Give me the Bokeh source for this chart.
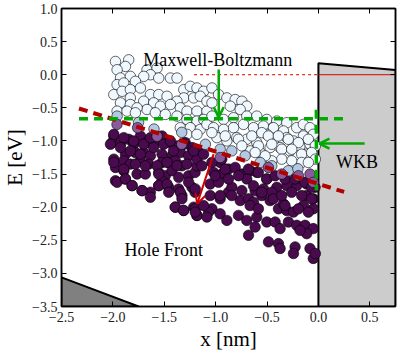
from bokeh.plotting import figure
from bokeh.models import (Range1d, LinearAxis, FixedTicker, CustomJSTickFormatter,
                          Arrow, OpenHead, Label)
from bokeh.embed import file_html
from bokeh.resources import INLINE

# ---------------- data ----------------
x_ticks = [-2.5, -2.0, -1.5, -1.0, -0.5, 0.0, 0.5]
y_ticks = [-3.5, -3.0, -2.5, -2.0, -1.5, -1.0, -0.5, 0.0, 0.5, 1.0]

# Maxwell-Boltzmann (thermalised) carriers
mb_x = [-1.975, -1.846, -1.878, -1.959, -1.668, -1.570, -1.635, -1.700, -1.926, -1.830,
        -1.554, -1.440, -1.376, -1.959, -1.894, -1.781, -1.991, -1.910, -1.830, -1.732,
        -1.830, -1.635, -1.554, -1.473, -1.310, -1.247, -1.182, -1.117, -1.310, -1.376,
        -1.214, -1.150, -1.085, -1.926, -1.830, -1.700, -1.603, -1.668, -1.765, -1.538,
        -1.440, -1.344, -1.959, -1.862, -1.781, -1.587, -1.490, -1.279, -1.182, -1.085,
        -1.376, -1.279, -1.182, -1.117, -1.344, -1.247, -1.150, -1.085, -1.279, -1.182,
        -1.036, -0.972, -1.036, -0.891, -0.810, -0.745, -0.697, -0.858, -0.761, -1.036,
        -0.923, -0.826, -0.697, -0.600, -0.502, -0.405, -0.308, -1.020, -0.923, -0.826,
        -0.729, -0.632, -0.535, -0.438, -0.340, -0.211, -0.146, -0.082, -0.988, -0.891,
        -0.794, -0.697, -0.600, -0.502, -0.438, -0.308, -0.243, -0.146, -0.050, -0.664,
        -0.567, -0.470, -0.373, -0.276, -0.179, -0.082, -0.114,
        -1.037, -0.907, -0.778, -0.648, -0.551, -0.487, -0.390, -0.293, -0.195, -0.098,
        -0.030, -0.745, -0.584, -0.454, -0.357, -0.260, -0.163, -0.066, -0.030, -0.163,
        -0.260, -0.098, -0.357, -0.454, -0.519, -0.616]
mb_y = [0.200, 0.225, 0.125, 0.075, 0.075, 0.100, 0.000, -0.025, -0.050, -0.025,
        -0.050, -0.050, -0.050, -0.150, -0.125, -0.100, -0.300, -0.250, -0.225, -0.200,
        -0.350, -0.300, -0.300, -0.325, -0.225, -0.175, -0.200, -0.250, -0.350, -0.400,
        -0.350, -0.325, -0.400, -0.425, -0.450, -0.400, -0.425, -0.525, -0.500, -0.475,
        -0.450, -0.500, -0.550, -0.550, -0.575, -0.575, -0.600, -0.550, -0.550, -0.550,
        -0.625, -0.675, -0.700, -0.675, -0.800, -0.800, -0.825, -0.750, -0.900, -0.900,
        -0.200, -0.300, -0.425, -0.350, -0.375, -0.400, -0.475, -0.475, -0.525, -0.625,
        -0.675, -0.650, -0.625, -0.625, -0.675, -0.700, -0.725, -0.800, -0.825, -0.800,
        -0.750, -0.800, -0.775, -0.800, -0.850, -0.800, -0.750, -0.800, -0.950, -1.000,
        -0.950, -0.975, -1.025, -0.900, -1.000, -0.950, -1.000, -0.925, -0.900, -1.150,
        -1.175, -1.100, -1.100, -1.150, -1.075, -1.050, -1.200,
        -0.875, -0.925, -0.975, -0.925, -0.875, -0.925, -0.925, -0.975, -1.025, -0.975,
        -1.075, -1.075, -1.075, -1.050, -1.125, -1.125, -1.200, -1.175, -1.275, -1.325,
        -1.300, -1.325, -1.275, -1.300, -1.225, -1.175]

# WKB boundary carriers (light blue)
wkb_x = [-1.959, -1.750, -1.600, -1.330, -1.100, -0.956, -0.843, -0.713, -0.567, -0.454,
         -0.293, -0.200]
wkb_y = [-0.625, -0.720, -0.820, -0.870, -1.050, -1.125, -1.150, -1.225, -1.325, -1.375,
         -1.450, -1.420]

# transition carriers (violet)
tr_x = [-1.960, -1.760, -1.570, -1.330, -0.956, -0.487, -0.357, -0.195, -0.082, -0.050]
tr_y = [-0.750, -0.800, -0.930, -1.050, -1.250, -1.400, -1.500, -1.525, -1.500, -1.625]

# hole front carriers (dark purple)
hf_x = [-1.991, -2.008, -1.927, -1.846, -1.797, -1.732, -1.668, -1.587, -1.522, -1.457,
        -1.376, -1.296, -1.231, -1.166, -1.781, -1.700, -1.635, -1.878, -1.991, -1.894,
        -1.830, -1.732, -1.652, -1.522, -1.425, -1.344, -1.263, -1.522, -1.457, -1.393,
        -1.328, -1.975, -1.894, -1.765, -1.684, -1.554, -1.490, -1.425, -1.360, -1.263,
        -1.200, -1.975, -1.878, -1.813, -1.716, -1.635, -1.554, -1.457, -1.522, -1.360,
        -1.328, -1.231, -1.200, -1.393, -1.312, -1.214, -1.182,
        -0.956, -1.020, -0.939, -0.875, -1.053, -0.972, -1.053, -0.956, -0.875, -0.842,
        -0.761, -0.680, -0.745, -0.664, -0.600, -0.697, -0.502, -0.405, -0.308, -0.211,
        -0.114, -0.033, -0.616, -0.535, -0.454, -0.632, -0.551, -0.470, -0.389, -0.308,
        -0.340, -0.243, -0.114, -0.050, -0.146, -0.050, -1.036, -0.956, -0.891, -0.778,
        -0.697, -0.600, -0.616, -0.502, -0.421, -0.373, -0.292, -0.211, -0.130, -0.050,
        -0.114, -0.179, -0.680, -0.486, -0.389, -0.373, -0.227, -0.243, -0.082, -0.050,
        -0.030,
        -1.991, -1.894, -1.781, -1.684, -1.570, -1.473, -1.376, -1.279, -1.182, -1.959,
        -1.878, -1.813, -1.716, -1.635, -1.554, -1.554, -1.473, -1.457, -1.344, -1.328,
        -1.263, -1.198, -1.393, -1.312, -1.198, -1.182, -1.069, -1.085,
        -1.182, -1.134, -1.037, -0.940, -0.907, -0.810, -1.004, -0.875, -0.778, -0.681,
        -0.584, -0.503, -0.422, -0.325, -0.228, -0.131, -0.066, -0.632, -0.551, -0.745,
        -0.843, -0.956, -1.118, -1.199, -0.665, -0.584, -0.438, -0.357, -0.260, -0.163,
        -0.066, -0.325, -0.195, -0.098,
        -1.991, -1.894, -2.024, -1.926, -1.797, -1.830, -1.700, -1.732, -1.603, -1.506,
        -1.410, -1.310, -1.214, -1.117, -1.635, -1.440]
hf_y = [-0.925, -1.025, -1.050, -0.975, -1.050, -0.925, -1.025, -1.000, -0.925, -1.025,
        -1.075, -1.025, -1.100, -1.175, -1.175, -1.175, -1.225, -1.200, -1.275, -1.300,
        -1.350, -1.300, -1.350, -1.200, -1.225, -1.175, -1.225, -1.325, -1.325, -1.300,
        -1.375, -1.400, -1.450, -1.500, -1.500, -1.475, -1.525, -1.450, -1.550, -1.525,
        -1.475, -1.600, -1.575, -1.675, -1.750, -1.775, -1.675, -1.700, -1.600, -1.725,
        -1.825, -1.700, -1.775, -2.000, -2.050, -2.000, -2.125,
        -1.325, -1.475, -1.500, -1.425, -1.650, -1.624, -1.824, -1.874, -1.774, -1.700,
        -1.900, -1.874, -1.500, -1.450, -1.474, -1.574, -1.574, -1.700, -1.674, -1.674,
        -1.650, -1.700, -1.750, -1.724, -1.774, -1.924, -1.824, -1.900, -2.024, -2.050,
        -1.950, -2.074, -1.824, -1.874, -1.974, -2.024, -2.024, -2.100, -2.200, -2.124,
        -2.200, -2.150, -2.300, -2.224, -2.224, -2.324, -2.224, -2.274, -2.274, -2.324,
        -2.400, -2.350, -2.424, -2.524, -2.550, -2.624, -2.600, -2.700, -2.624, -2.774,
        -2.700,
        -1.324, -1.424, -1.350, -1.374, -1.374, -1.324, -1.374, -1.350, -1.374, -1.624,
        -1.574, -1.674, -1.750, -1.850, -1.500, -1.674, -1.650, -1.774, -1.774, -1.874,
        -1.624, -1.724, -1.999, -2.050, -2.024, -2.124, -2.074, -2.150,
        -1.275, -1.375, -1.325, -1.275, -1.425, -1.400, -1.525, -1.575, -1.525, -1.425,
        -1.475, -1.575, -1.525, -1.575, -1.575, -1.625, -1.700, -1.675, -1.775, -1.750,
        -1.825, -1.825, -1.975, -2.075, -1.975, -2.025, -1.875, -1.825, -1.775, -1.825,
        -1.875, -1.975, -2.025, -2.075,
        -0.900, -0.950, -1.050, -1.100, -1.000, -1.150, -1.050, -1.200, -1.100, -1.050,
        -1.150, -1.050, -1.150, -1.200, -0.950, -1.000]

# band structure / reference lines
barrier_x = [0.0, 0.0, 0.75, 0.75]
barrier_y = [-3.5, 0.175, 0.07, -3.5]
bulk_x = [-2.5, -2.5, -1.75]
bulk_y = [-3.5, -3.06, -3.5]
front_x = [-2.33, 0.25]
front_y = [-0.51, -1.77]
wkb_level = -0.665
wkb_line_x = [-2.33, 0.25]
wkb_vert_x = [-0.02, -0.02]
wkb_vert_y = [-0.53, -1.75]
fermi_dash_x = [-1.21, 0.0]
fermi_solid_x = [0.0, 0.75]
fermi_level = 0.0

FONT = "Liberation Serif"

p = figure(width=400, height=353, x_range=Range1d(-2.5, 0.75), y_range=Range1d(-3.5, 1.0),
           output_backend="svg", toolbar_location=None,
           min_border_left=59, min_border_right=5, min_border_top=8, min_border_bottom=45,
           x_axis_label="x [nm]", y_axis_label="E [eV]")
p.xgrid.grid_line_color = None
p.ygrid.grid_line_color = None
p.outline_line_color = "black"
p.outline_line_width = 1.5
p.background_fill_color = "white"
p.border_fill_color = "white"

fmt = CustomJSTickFormatter(code="return tick.toFixed(1).replace('-', '\u2212');")
for ax in (p.xaxis[0], p.yaxis[0]):
    ax.major_label_text_font = FONT
    ax.major_label_text_font_size = "14px"
    ax.major_label_text_color = "#222222"
    ax.axis_label_text_font = FONT
    ax.axis_label_text_font_size = "21px"
    ax.axis_label_text_font_style = "normal"
    ax.axis_label_text_color = "black"
    ax.major_tick_in = 5
    ax.major_tick_out = 0
    ax.minor_tick_line_color = None
    ax.axis_line_color = "black"
    ax.axis_line_width = 1.5
    ax.formatter = fmt
p.xaxis[0].ticker = FixedTicker(ticks=x_ticks)
p.yaxis[0].ticker = FixedTicker(ticks=y_ticks)
p.xaxis[0].major_label_standoff = 5
p.xaxis[0].axis_label_standoff = 2
p.yaxis[0].major_label_standoff = 4
p.yaxis[0].axis_label_standoff = 2

for loc, ticks in (("above", x_ticks), ("right", y_ticks)):
    ax = LinearAxis(ticker=FixedTicker(ticks=ticks), major_tick_in=5, major_tick_out=0,
                    minor_tick_line_color=None, major_label_text_font_size="1px",
                    major_label_text_color=None,
                    major_label_standoff=0, axis_line_color="black", axis_line_width=1.5)
    p.add_layout(ax, loc)

# shapes
p.patch(barrier_x, barrier_y, fill_color="#cccccc", line_color="black", line_width=2)
p.patch(bulk_x, bulk_y, fill_color="#808080", line_color="black", line_width=2)

# carriers
p.scatter(mb_x, mb_y, size=10.5, fill_color="#f0f8ff", line_color="black", line_width=0.6)
p.scatter(hf_x, hf_y, size=10.5, fill_color="#4a0a4e", line_color="black", line_width=0.6)
p.scatter(wkb_x, wkb_y, size=10.5, fill_color="#b3c9e3", line_color="black", line_width=0.6)
p.scatter(tr_x, tr_y, size=10.5, fill_color="#8a5a9e", line_color="black", line_width=0.6)

# lines
p.line(fermi_dash_x, [fermi_level, fermi_level], line_color="#dd0000", line_width=1, line_dash="3 3")
p.line(fermi_solid_x, [fermi_level, fermi_level], line_color="#dd0000", line_width=1)
p.line(front_x, front_y, line_color="#b00000", line_width=4, line_dash="9 6")
p.line(wkb_line_x, [wkb_level, wkb_level], line_color="#00aa00", line_width=3.5, line_dash="9 6")
p.line(wkb_vert_x, wkb_vert_y, line_color="#00aa00", line_width=3.5, line_dash="9 6")

# arrows
p.add_layout(Arrow(end=OpenHead(size=10, line_color="#00aa00", line_width=2.5),
                   x_start=-0.97, y_start=0.08, x_end=-0.97, y_end=-0.64,
                   line_color="#00aa00", line_width=2.5))
p.add_layout(Arrow(end=OpenHead(size=10, line_color="#00aa00", line_width=2.5),
                   x_start=0.45, y_start=-1.04, x_end=0.01, y_end=-1.04,
                   line_color="#00aa00", line_width=2.5))
p.add_layout(Arrow(end=OpenHead(size=10, line_color="#cc0000", line_width=2),
                   x_start=-1.02, y_start=-1.2, x_end=-1.18, y_end=-1.95,
                   line_color="#cc0000", line_width=2))

# labels
for txt, x, y, align in (("Maxwell-Boltzmann", -0.98, 0.225, "center"),
                         ("WKB", 0.17, -1.32, "left"),
                         ("Hole Front", -1.506, -2.65, "center")):
    p.add_layout(Label(x=x, y=y, text=txt, text_font=FONT, text_font_size="18px",
                       text_align=align, text_baseline="alphabetic", text_color="black"))

open("out.html", "w").write(file_html(p, INLINE))
